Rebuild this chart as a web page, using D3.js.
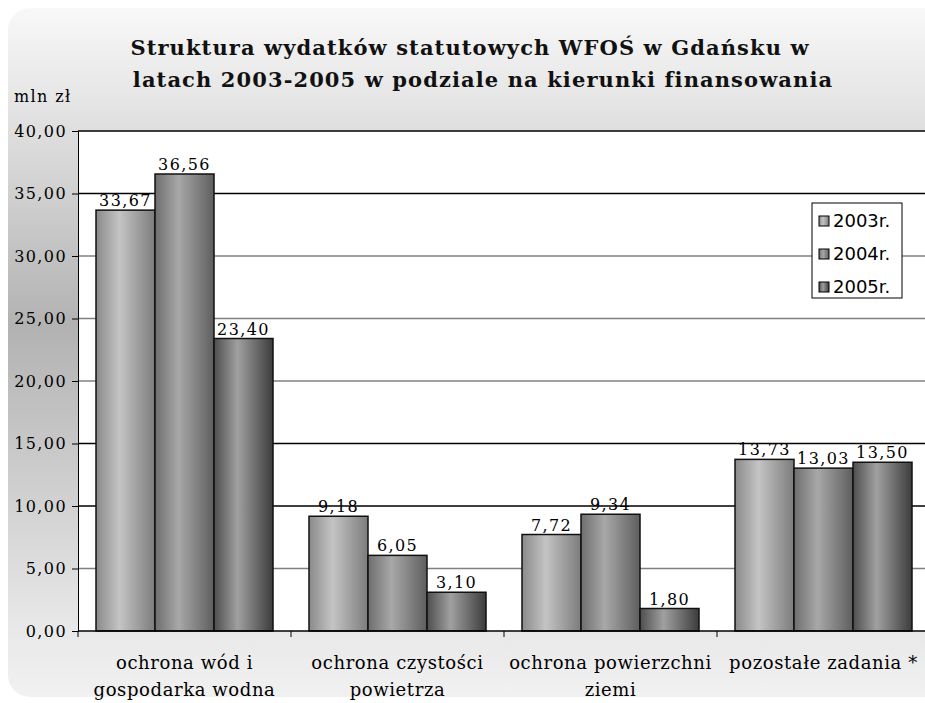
<!DOCTYPE html>
<html>
<head>
<meta charset="utf-8">
<script src="https://cdn.jsdelivr.net/npm/d3@7"></script>
<style>
  body { margin: 0; background: #fff; }
  svg { display: block; }
</style>
</head>
<body>
<script>
// data
const categories = [
  ["ochrona wód i", "gospodarka wodna"],
  ["ochrona czystości", "powietrza"],
  ["ochrona powierzchni", "ziemi"],
  ["pozostałe zadania *"]
];
const years = ["2003r.", "2004r.", "2005r."];
const v2003 = [33.67, 9.18, 7.72, 13.73];
const v2004 = [36.56, 6.05, 9.34, 13.03];
const v2005 = [23.40, 3.10, 1.80, 13.50];
const yTicks = [0, 5, 10, 15, 20, 25, 30, 35, 40];

const series = [v2003, v2004, v2005];
const fmt = v => v.toFixed(2).replace(".", ",");

const W = 925, H = 703;
const plot = {left: 78, right: 930, top: 131, bottom: 631};

const svg = d3.select("body").append("svg")
  .attr("width", W).attr("height", H);

const defs = svg.append("defs");

// card background gradient
const bg = defs.append("linearGradient").attr("id", "bg")
  .attr("x1", 0).attr("y1", 0).attr("x2", 0).attr("y2", 1);
[[0, "#f8f8f8"], [0.13, "#e6e6e6"], [0.46, "#b2b2b2"], [0.9, "#e8e8e8"], [1, "#f1f1f1"]]
  .forEach(s => bg.append("stop").attr("offset", s[0]).attr("stop-color", s[1]));

// cylinder shading for the bars, one per year
const shades = [
  ["#8a8a8a", "#c4c4c4", "#7c7c7c"],
  ["#6e6e6e", "#a8a8a8", "#5e5e5e"],
  ["#4e4e4e", "#a0a0a0", "#3c3c3c"]
];
shades.forEach((c, i) => {
  const g = defs.append("linearGradient").attr("id", "bar" + i)
    .attr("x1", 0).attr("y1", 0).attr("x2", 1).attr("y2", 0);
  g.append("stop").attr("offset", 0).attr("stop-color", c[0]);
  g.append("stop").attr("offset", 0.4).attr("stop-color", c[1]);
  g.append("stop").attr("offset", 1).attr("stop-color", c[2]);
});

svg.append("rect")
  .attr("x", 8).attr("y", 8).attr("width", 960).attr("height", 689)
  .attr("rx", 22).attr("fill", "url(#bg)");

// title
const title = svg.append("text")
  .attr("text-anchor", "middle")
  .attr("font-family", "DejaVu Serif")
  .attr("font-weight", "bold")
  .attr("font-size", 21)
  .attr("letter-spacing", 1.1)
  .attr("fill", "#111");
title.append("tspan").attr("x", 470).attr("y", 55)
  .text("Struktura wydatków statutowych WFOŚ w Gdańsku w");
title.append("tspan").attr("x", 483).attr("y", 87)
  .text("latach 2003-2005 w podziale na kierunki finansowania");

svg.append("text")
  .attr("x", 14).attr("y", 102)
  .attr("font-family", "DejaVu Serif").attr("font-size", 16)
  .attr("letter-spacing", 1.4)
  .text("mln zł");

// scales
const x0 = d3.scaleBand().domain(d3.range(categories.length))
  .range([plot.left, plot.right]);
const x1 = d3.scaleBand().domain(d3.range(years.length))
  .range([18, x0.bandwidth() - 18]);
const y = d3.scaleLinear().domain([0, 40]).range([plot.bottom, plot.top]);

// plot area
svg.append("rect")
  .attr("x", plot.left).attr("y", plot.top)
  .attr("width", W - plot.left).attr("height", plot.bottom - plot.top)
  .attr("fill", "#fff");

const gridColor = v => ([40, 35, 15, 10].includes(v) ? "#000" : "#808080");
svg.append("g").selectAll("line")
  .data(yTicks.filter(t => t > 0))
  .join("line")
  .attr("x1", plot.left).attr("x2", W)
  .attr("y1", d => y(d)).attr("y2", d => y(d))
  .attr("stroke", gridColor).attr("stroke-width", 1.5);

// y axis
const yAxis = svg.append("g")
  .attr("transform", `translate(${plot.left},0)`)
  .call(d3.axisLeft(y).tickValues(yTicks).tickFormat(fmt).tickSize(6).tickPadding(5));
yAxis.select(".domain").attr("stroke", "#000");
yAxis.selectAll("text")
  .attr("font-family", "DejaVu Serif").attr("font-size", 16)
  .attr("letter-spacing", 1.4).attr("fill", "#000");
yAxis.selectAll(".tick line").attr("stroke", "#000");

// bars
const groups = svg.append("g").selectAll("g")
  .data(series)
  .join("g")
  .attr("fill", (d, i) => `url(#bar${i})`);

groups.selectAll("rect")
  .data((d, i) => d.map((v, c) => ({v, c, s: i})))
  .join("rect")
  .attr("x", d => x0(d.c) + x1(d.s))
  .attr("y", d => y(d.v))
  .attr("width", x1.bandwidth())
  .attr("height", d => plot.bottom - y(d.v))
  .attr("stroke", "#111").attr("stroke-width", 1.5);

groups.selectAll("text")
  .data((d, i) => d.map((v, c) => ({v, c, s: i})))
  .join("text")
  .attr("x", d => x0(d.c) + x1(d.s) + x1.bandwidth() / 2)
  .attr("y", d => y(d.v) - 4)
  .attr("text-anchor", "middle")
  .attr("font-family", "DejaVu Serif").attr("font-size", 16)
  .attr("letter-spacing", 1.4)
  .attr("fill", "#000")
  .text(d => fmt(d.v));

// x axis
svg.append("line")
  .attr("x1", plot.left).attr("x2", W)
  .attr("y1", plot.bottom).attr("y2", plot.bottom)
  .attr("stroke", "#000").attr("stroke-width", 1.5);
svg.append("g").selectAll("line")
  .data(d3.range(categories.length))
  .join("line")
  .attr("x1", d => x0(d)).attr("x2", d => x0(d))
  .attr("y1", plot.bottom).attr("y2", plot.bottom + 6)
  .attr("stroke", "#000");

const catLabels = svg.append("g").selectAll("text")
  .data(categories)
  .join("text")
  .attr("text-anchor", "middle")
  .attr("font-family", "DejaVu Serif").attr("font-size", 18)
  .attr("letter-spacing", 0.6)
  .attr("fill", "#000");
catLabels.selectAll("tspan")
  .data((d, i) => d.map(t => ({t, i})))
  .join("tspan")
  .attr("x", d => x0(d.i) + x0.bandwidth() / 2)
  .attr("y", (d, j) => 669 + j * 27)
  .text(d => d.t);

// legend
const legend = svg.append("g").attr("transform", "translate(812,203)");
legend.append("rect")
  .attr("width", 90).attr("height", 95)
  .attr("fill", "#fff").attr("stroke", "#000");
const li = legend.selectAll("g")
  .data(years)
  .join("g")
  .attr("transform", (d, i) => `translate(7,${18 + i * 33})`);
li.append("rect")
  .attr("y", -5).attr("width", 10).attr("height", 10)
  .attr("fill", (d, i) => `url(#bar${i})`)
  .attr("stroke", "#000");
li.append("text")
  .attr("x", 14).attr("y", 6)
  .attr("font-family", "DejaVu Sans").attr("font-size", 18)
  .text(d => d);
</script>
</body>
</html>
